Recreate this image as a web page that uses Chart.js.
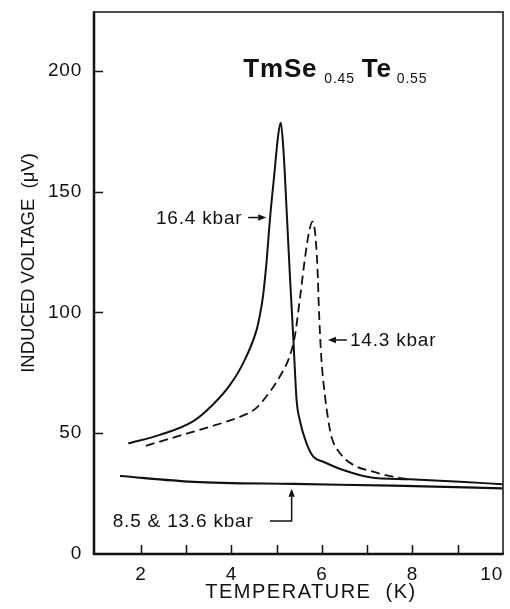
<!DOCTYPE html>
<html>
<head>
<meta charset="utf-8">
<script src="https://cdn.jsdelivr.net/npm/chart.js@4.4.1/dist/chart.umd.min.js"></script>
<style>
  html, body { margin: 0; padding: 0; background: #ffffff; }
  #wrap { width: 510px; height: 609px; }
</style>
</head>
<body>
<div id="wrap"><canvas id="c" width="510" height="609"></canvas></div>
<script>
// ---- data ----
const T_16_4 = [1.72, 2.42, 3.16, 3.60, 3.97, 4.26, 4.56, 4.63, 4.70, 4.78, 4.85, 4.95, 5.03, 5.09, 5.15, 5.22, 5.29, 5.37, 5.44, 5.51, 5.66, 5.81, 6.03, 6.47, 7.06, 7.94, 9.05, 9.99];
const V_16_4 = [45.8, 49.3, 55.0, 62.0, 70.0, 79.0, 93.0, 99.0, 107.0, 121.7, 138.3, 157.6, 172.8, 178.6, 167.3, 142.4, 116.2, 88.6, 63.8, 55.5, 45.8, 40.3, 38.2, 34.8, 31.8, 30.9, 29.9, 28.9];

const T_14_3 = [2.11, 2.79, 3.53, 3.97, 4.34, 4.52, 4.70, 5.07, 5.29, 5.40, 5.51, 5.62, 5.71, 5.79, 5.85, 5.90, 5.94, 5.99, 6.07, 6.14, 6.21, 6.40, 6.69, 7.13, 7.57, 7.94];
const V_14_3 = [44.8, 48.6, 52.7, 55.3, 58.0, 60.0, 63.5, 73.5, 82.0, 90.0, 105.2, 121.7, 132.8, 137.6, 132.8, 119.0, 98.3, 80.3, 65.1, 55.5, 48.6, 41.7, 36.9, 34.1, 32.0, 30.9];

const T_LOW = [1.54, 3.16, 5.37, 7.57, 9.99];
const V_LOW = [32.3, 29.9, 29.0, 28.3, 27.2];

const X_TICK_LABELS = [2, 4, 6, 8, 10];
const X_TICK_MARKS = [2, 3, 4, 5, 6, 7, 8, 9];
const Y_TICK_LABELS = [0, 50, 100, 150, 200];
const Y_TICK_MARKS = [50, 100, 150, 200];

const X_MIN = 0.965, X_MAX = 10;
const Y_MIN = 0, Y_MAX = 224.4;

const INK = '#111111';
const FONT = '"Liberation Sans", Arial, Helvetica, sans-serif';

function pts(xs, ys) { return xs.map((x, i) => ({ x: x, y: ys[i] })); }

// annotations in data coordinates
const NOTES = [
  { text: '16.4 kbar', x: 2.334, y: 139.3 },
  { text: '14.3 kbar', x: 6.618, y: 88.6 },
  { text: '8.5 & 13.6 kbar', x: 1.378, y: 13.8 }
];
const ARROWS = [
  [[4.37, 139.3], [4.77, 139.3]],
  [[6.552, 88.6], [6.133, 88.6]],
  [[4.852, 13.66], [5.331, 13.66], [5.331, 27.0]]
];

const deco = {
  id: 'deco',
  beforeDraw(chart) {
    const ctx = chart.ctx;
    ctx.save();
    ctx.fillStyle = '#ffffff';
    ctx.fillRect(0, 0, chart.width, chart.height);
    ctx.restore();
    ctx.letterSpacing = '0.8px';
  },
  afterDraw(chart) {
    const ctx = chart.ctx;
    const a = chart.chartArea;
    const xs = chart.scales.x, ys = chart.scales.y;
    ctx.save();
    ctx.strokeStyle = INK;
    ctx.fillStyle = INK;
    ctx.lineCap = 'butt';
    // frame
    ctx.lineWidth = 1.5;
    ctx.beginPath();
    ctx.moveTo(a.left, a.top); ctx.lineTo(a.right, a.top); ctx.lineTo(a.right, a.bottom);
    ctx.stroke();
    ctx.lineWidth = 2.5;
    ctx.beginPath();
    ctx.moveTo(a.left, a.top - 0.75); ctx.lineTo(a.left, a.bottom); ctx.lineTo(a.right + 0.75, a.bottom);
    ctx.stroke();
    // inward tick marks
    ctx.lineWidth = 1.5;
    ctx.beginPath();
    X_TICK_MARKS.forEach(v => {
      const px = Math.round(xs.getPixelForValue(v)) + 0.5;
      ctx.moveTo(px, a.bottom); ctx.lineTo(px, a.bottom - 9);
    });
    Y_TICK_MARKS.forEach(v => {
      const py = Math.round(ys.getPixelForValue(v)) + 0.5;
      ctx.moveTo(a.left, py); ctx.lineTo(a.left + 9, py);
    });
    ctx.stroke();

    // axis titles
    ctx.letterSpacing = '1.5px';
    ctx.font = '20px ' + FONT;
    ctx.textAlign = 'center';
    ctx.textBaseline = 'middle';
    ctx.fillText('TEMPERATURE  (K)', 311, 592);
    ctx.save();
    ctx.letterSpacing = '0px';
    ctx.translate(29, 263);
    ctx.rotate(-Math.PI / 2);
    ctx.font = '18.5px ' + FONT;
    ctx.fillText('INDUCED VOLTAGE  (\u03BCV)', 0, 0);
    ctx.restore();

    // chemical formula title
    ctx.letterSpacing = '0.8px';
    ctx.textAlign = 'left';
    ctx.textBaseline = 'alphabetic';
    let x = xs.getPixelForValue(4.264);
    const base = ys.getPixelForValue(197.6);
    ctx.font = 'bold 26px ' + FONT;
    ctx.fillText('TmSe', x, base); x += ctx.measureText('TmSe').width + 7;
    ctx.font = '14px ' + FONT;
    ctx.fillText('0.45', x, base + 6); x += ctx.measureText('0.45').width + 7;
    ctx.font = 'bold 26px ' + FONT;
    ctx.fillText('Te', x, base); x += ctx.measureText('Te').width + 5;
    ctx.font = '14px ' + FONT;
    ctx.fillText('0.55', x, base + 6);

    // notes
    ctx.font = '19px ' + FONT;
    ctx.textBaseline = 'middle';
    NOTES.forEach(n => ctx.fillText(n.text, xs.getPixelForValue(n.x), ys.getPixelForValue(n.y) + 1));

    // arrows
    ctx.lineWidth = 1.5;
    ARROWS.forEach(path => {
      const p = path.map(q => [xs.getPixelForValue(q[0]), ys.getPixelForValue(q[1])]);
      const n = p.length;
      const tip = p[n - 1], prev = p[n - 2];
      const ang = Math.atan2(tip[1] - prev[1], tip[0] - prev[0]);
      const hl = 8, hw = 3.2;
      const bx = tip[0] - hl * Math.cos(ang), by = tip[1] - hl * Math.sin(ang);
      ctx.beginPath();
      ctx.moveTo(p[0][0], p[0][1]);
      for (let i = 1; i < n - 1; i++) ctx.lineTo(p[i][0], p[i][1]);
      ctx.lineTo(bx, by);
      ctx.stroke();
      ctx.beginPath();
      ctx.moveTo(tip[0], tip[1]);
      ctx.lineTo(bx - hw * Math.sin(ang), by + hw * Math.cos(ang));
      ctx.lineTo(bx + hw * Math.sin(ang), by - hw * Math.cos(ang));
      ctx.closePath();
      ctx.fill();
    });
    ctx.restore();
  }
};

const lineBase = {
  borderColor: INK,
  pointRadius: 0,
  fill: false,
  cubicInterpolationMode: 'monotone',
  tension: 0.4
};

new Chart(document.getElementById('c'), {
  type: 'line',
  data: {
    datasets: [
      Object.assign({ label: '16.4 kbar', data: pts(T_16_4, V_16_4), borderWidth: 2 }, lineBase),
      Object.assign({ label: '14.3 kbar', data: pts(T_14_3, V_14_3), borderWidth: 1.8, borderDash: [9, 5] }, lineBase),
      Object.assign({ label: '8.5 & 13.6 kbar', data: pts(T_LOW, V_LOW), borderWidth: 2.2 }, lineBase)
    ]
  },
  options: {
    responsive: false,
    animation: false,
    devicePixelRatio: 1,
    layout: { padding: { top: 12, right: 7, left: 0, bottom: 0 } },
    plugins: { legend: { display: false }, tooltip: { enabled: false } },
    scales: {
      x: {
        type: 'linear',
        min: X_MIN, max: X_MAX,
        grid: { display: false, drawTicks: false },
        border: { display: false },
        afterBuildTicks(s) { s.ticks = [{ value: X_MIN }].concat(X_TICK_LABELS.map(v => ({ value: v }))); },
        afterFit(s) { s.height = 55; s.paddingLeft = 0; s.paddingRight = 0; },
        ticks: {
          color: INK, padding: 9, maxRotation: 0, autoSkip: false, align: 'inner',
          font: { family: FONT, size: 19 },
          callback: v => (X_TICK_LABELS.indexOf(v) >= 0 ? String(v) : '')
        }
      },
      y: {
        type: 'linear',
        min: Y_MIN, max: Y_MAX,
        grid: { display: false, drawTicks: false },
        border: { display: false },
        afterBuildTicks(s) { s.ticks = Y_TICK_LABELS.map(v => ({ value: v })); },
        afterFit(s) { s.width = 94; s.paddingTop = 0; s.paddingBottom = 0; },
        ticks: {
          color: INK, padding: 12, autoSkip: false,
          font: { family: FONT, size: 19 },
          callback: v => String(v)
        }
      }
    }
  },
  plugins: [deco]
});
</script>
</body>
</html>
